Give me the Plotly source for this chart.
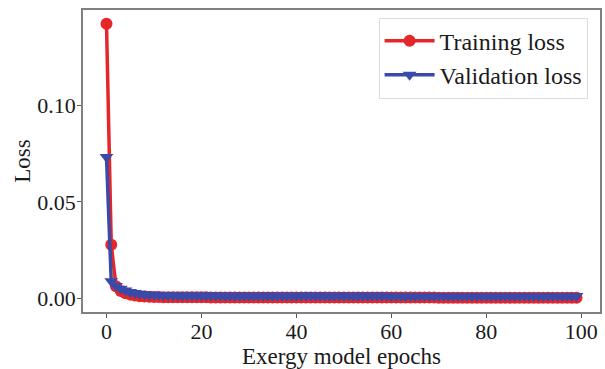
import plotly.graph_objects as go

epochs = list(range(100))

training_loss = [
    0.1423, 0.0278, 0.0062, 0.0038, 0.0026, 0.0019, 0.0014, 0.0011, 0.0009, 0.0008,
    0.0007, 0.0007, 0.0006, 0.0006, 0.0006, 0.0005, 0.0005, 0.0005, 0.0005, 0.0005,
    0.0005, 0.0005, 0.0004, 0.0004, 0.0004, 0.0004, 0.0004, 0.0004, 0.0004, 0.0004,
    0.0004, 0.0004, 0.0004, 0.0004, 0.0004, 0.0004, 0.0004, 0.0004, 0.0004, 0.0004,
    0.0004, 0.0004, 0.0004, 0.0004, 0.0004, 0.0004, 0.0004, 0.0004, 0.0004, 0.0004,
    0.0004, 0.0004, 0.0004, 0.0004, 0.0004, 0.0004, 0.0004, 0.0004, 0.0004, 0.0004,
    0.0004, 0.0004, 0.0004, 0.0004, 0.0004, 0.0004, 0.0004, 0.0004, 0.0004, 0.0004,
    0.0003, 0.0003, 0.0003, 0.0003, 0.0003, 0.0003, 0.0003, 0.0003, 0.0003, 0.0003,
    0.0003, 0.0003, 0.0003, 0.0003, 0.0003, 0.0003, 0.0003, 0.0003, 0.0003, 0.0003,
    0.0003, 0.0003, 0.0003, 0.0003, 0.0003, 0.0003, 0.0003, 0.0003, 0.0003, 0.0003,
]

validation_loss = [
    0.0732, 0.0088, 0.0064, 0.0050, 0.0040, 0.0033, 0.0028, 0.0024, 0.0021, 0.0019,
    0.0018, 0.0017, 0.0016, 0.0016, 0.0015, 0.0015, 0.0015, 0.0014, 0.0014, 0.0014,
    0.0014, 0.0014, 0.0014, 0.0014, 0.0013, 0.0013, 0.0013, 0.0013, 0.0013, 0.0013,
    0.0013, 0.0013, 0.0013, 0.0013, 0.0013, 0.0013, 0.0013, 0.0013, 0.0013, 0.0013,
    0.0013, 0.0013, 0.0014, 0.0014, 0.0013, 0.0013, 0.0013, 0.0013, 0.0013, 0.0013,
    0.0013, 0.0013, 0.0013, 0.0013, 0.0013, 0.0013, 0.0013, 0.0013, 0.0013, 0.0013,
    0.0012, 0.0012, 0.0012, 0.0012, 0.0012, 0.0012, 0.0012, 0.0012, 0.0012, 0.0012,
    0.0012, 0.0012, 0.0012, 0.0012, 0.0012, 0.0012, 0.0012, 0.0012, 0.0012, 0.0012,
    0.0012, 0.0012, 0.0012, 0.0012, 0.0012, 0.0012, 0.0012, 0.0012, 0.0012, 0.0012,
    0.0012, 0.0012, 0.0012, 0.0012, 0.0012, 0.0012, 0.0012, 0.0012, 0.0012, 0.0012,
]

x_ticks = [0, 20, 40, 60, 80, 100]
y_ticks = [0.00, 0.05, 0.10]
y_tick_labels = ["0.00", "0.05", "0.10"]

RED = "#e5262b"
BLUE = "#3a4aa8"
FONT = "Liberation Serif"

fig = go.Figure()
fig.add_trace(go.Scatter(
    x=epochs, y=training_loss, mode="lines+markers", name="Training loss",
    line=dict(color=RED, width=3.5),
    marker=dict(symbol="circle", size=12, color=RED),
))
fig.add_trace(go.Scatter(
    x=epochs, y=validation_loss, mode="lines+markers", name="Validation loss",
    line=dict(color=BLUE, width=3.5),
    marker=dict(symbol="triangle-down", size=12, color=BLUE),
))

axis_common = dict(
    showgrid=False, zeroline=False, showline=True, mirror=True,
    linecolor="#808080", linewidth=1.5,
    ticks="outside", ticklen=4, tickwidth=1, tickcolor="#555555",
    tickfont=dict(family=FONT, size=22, color="#1a1a1a"),
)

fig.update_layout(
    width=605, height=369,
    margin=dict(l=83, r=3, t=10, b=57),
    plot_bgcolor="white", paper_bgcolor="white",
    font=dict(family=FONT, color="#1a1a1a"),
    xaxis=dict(
        range=[-4.95, 103.95], tickvals=x_ticks,
        ticklabelstandoff=-5,
        title=dict(text="Exergy model epochs", font=dict(family=FONT, size=23), standoff=0),
        **axis_common,
    ),
    yaxis=dict(
        range=[-0.0071, 0.1494], tickvals=y_ticks, ticktext=y_tick_labels,
        ticklabelstandoff=-3,
        title=dict(text="Loss", font=dict(family=FONT, size=23), standoff=0),
        **axis_common,
    ),
    legend=dict(
        x=0.976, y=0.975, xanchor="right", yanchor="top",
        bgcolor="white", bordercolor="#dddddd", borderwidth=1,
        font=dict(family=FONT, size=24, color="#1a1a1a"),
        itemwidth=50, tracegroupgap=0,
    ),
    showlegend=True,
)

fig.write_html("out.html")
